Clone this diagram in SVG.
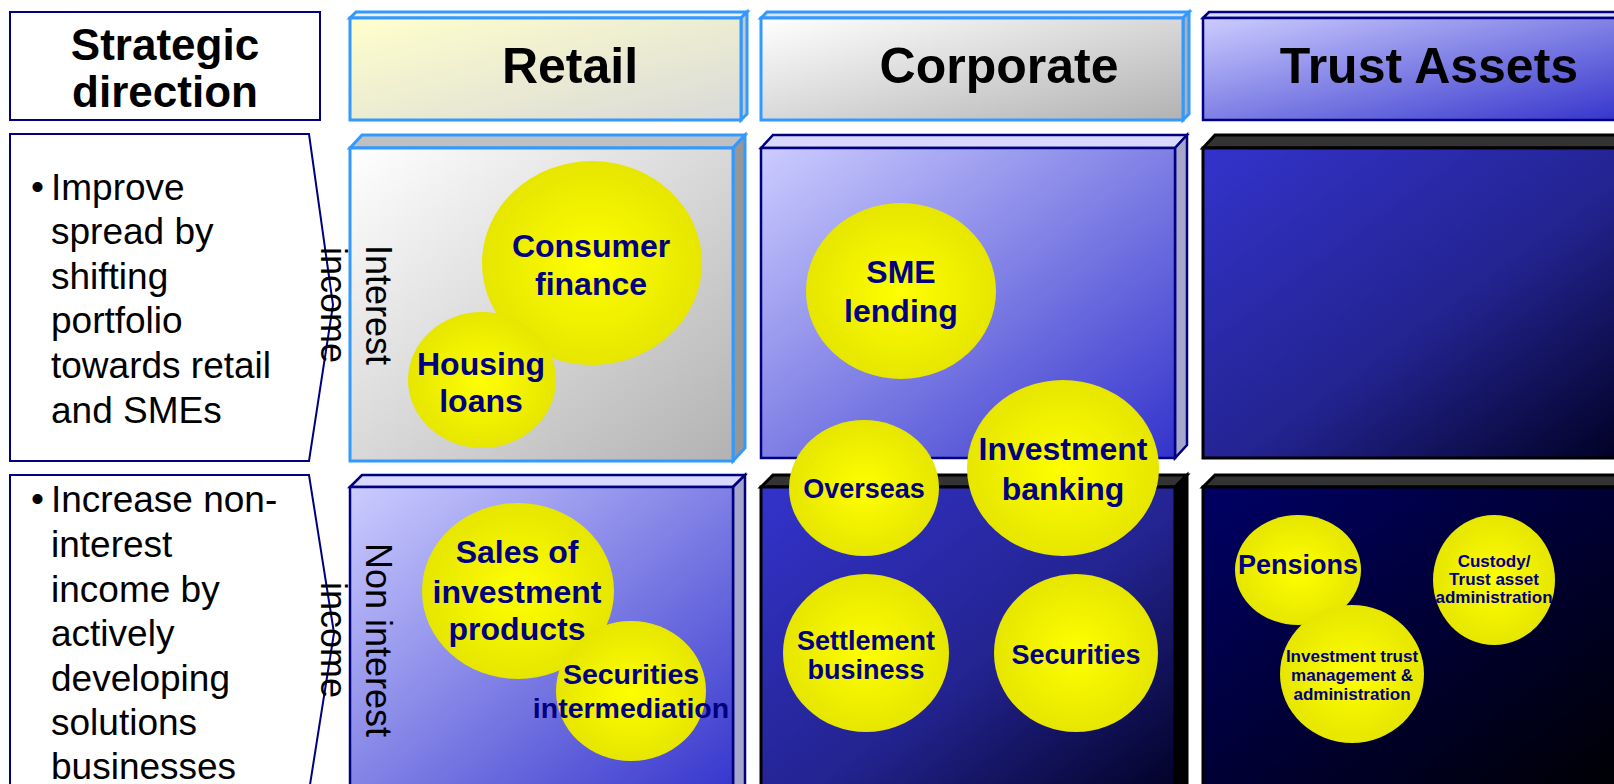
<svg xmlns="http://www.w3.org/2000/svg" width="1614" height="784" viewBox="0 0 1614 784">
  <defs>
    <linearGradient id="gYellowGray" x1="0" y1="0" x2="1" y2="1">
      <stop offset="0" stop-color="#FFFFCC"/>
      <stop offset="1" stop-color="#D9D9D9"/>
    </linearGradient>
    <linearGradient id="gWhiteGray" x1="0" y1="0" x2="1" y2="1">
      <stop offset="0" stop-color="#FFFFFF"/>
      <stop offset="1" stop-color="#B2B2B2"/>
    </linearGradient>
    <linearGradient id="gLilac" x1="0" y1="0" x2="1" y2="1">
      <stop offset="0" stop-color="#CCCCFF"/>
      <stop offset="1" stop-color="#3333CC"/>
    </linearGradient>
    <linearGradient id="gBlueDark" x1="0" y1="0" x2="1" y2="1">
      <stop offset="0" stop-color="#3333CC"/>
      <stop offset="0.55" stop-color="#232390"/>
      <stop offset="1" stop-color="#000022"/>
    </linearGradient>
    <linearGradient id="gNavyBlack" x1="0" y1="0" x2="1" y2="1">
      <stop offset="0" stop-color="#000066"/>
      <stop offset="1" stop-color="#000000"/>
    </linearGradient>
    <radialGradient id="gBubble" cx="0.5" cy="0.5" r="0.5">
      <stop offset="0" stop-color="#FFFF00"/>
      <stop offset="1" stop-color="#E6E600"/>
    </radialGradient>
    <style>
      .hdr { font-family: "Liberation Sans", Arial, sans-serif; font-weight: bold; font-size: 50px; fill: #000; text-anchor: middle; }
      .sd { font-family: "Liberation Sans", Arial, sans-serif; font-weight: bold; font-size: 44px; fill: #000; text-anchor: middle; }
      .body { font-family: "Liberation Sans", Arial, sans-serif; font-size: 37px; fill: #000; }
      .vert { font-family: "Liberation Sans", Arial, sans-serif; font-size: 36px; fill: #000; text-anchor: middle; }
      .bl { font-family: "Liberation Sans", Arial, sans-serif; font-weight: bold; fill: #000080; text-anchor: middle; }
      .b32 { font-size: 32px; }
      .b28 { font-size: 28.5px; }
      .b27 { font-size: 27px; }
      .b17 { font-size: 17px; }
      .bubble { fill: url(#gBubble); }
      .navy { stroke: #000080; stroke-width: 2.5; stroke-linejoin: miter; }
      .sky { stroke: #3399FF; stroke-width: 3; stroke-linejoin: miter; }
      .blk { stroke: #000000; stroke-width: 3; stroke-linejoin: miter; }
      .textbox { fill: #FFFFFF; stroke: #000080; stroke-width: 2; }
    </style>
  </defs>

  <rect width="1614" height="784" fill="#FFFFFF"/>

  <!-- left column: strategy statements -->
  <g id="strategic-direction">
    <rect class="textbox" x="10" y="12" width="310" height="108"/>
    <text class="sd" x="165" y="60">Strategic</text>
    <text class="sd" x="165" y="107">direction</text>
  </g>

  <g id="strategy-spread">
    <polygon class="textbox" points="10,134 309,134 333,305 309,461 10,461"/>
    <text class="body" x="31" y="199" font-size="26">•</text>
    <text class="body" x="51" y="200">Improve</text>
    <text class="body" x="51" y="244">spread by</text>
    <text class="body" x="51" y="289">shifting</text>
    <text class="body" x="51" y="333">portfolio</text>
    <text class="body" x="51" y="378">towards retail</text>
    <text class="body" x="51" y="423">and SMEs</text>
  </g>

  <g id="strategy-noninterest">
    <polygon class="textbox" points="10,475 309,475 334,633 309,791 10,791"/>
    <text class="body" x="31" y="511" font-size="26">•</text>
    <text class="body" x="51" y="512">Increase non-</text>
    <text class="body" x="51" y="557">interest</text>
    <text class="body" x="51" y="602">income by</text>
    <text class="body" x="51" y="646">actively</text>
    <text class="body" x="51" y="691">developing</text>
    <text class="body" x="51" y="735">solutions</text>
    <text class="body" x="51" y="779">businesses</text>
  </g>

  <!-- column headers (shallow 3D blocks) -->
  <g id="header-retail">
    <polygon class="sky" fill="#F0F0DC" points="350,18 356,12 747,12 741,18"/>
    <polygon class="sky" fill="#C8C8C8" points="741,18 747,12 747,114 741,120"/>
    <rect class="sky" fill="url(#gYellowGray)" x="350" y="18" width="391" height="102"/>
    <text class="hdr" x="570" y="83">Retail</text>
  </g>
  <g id="header-corporate">
    <polygon class="sky" fill="#E0E0E0" points="761,18 767,12 1189,12 1183,18"/>
    <polygon class="sky" fill="#B0B0B0" points="1183,18 1189,12 1189,114 1183,120"/>
    <rect class="sky" fill="url(#gWhiteGray)" x="761" y="18" width="422" height="102"/>
    <text class="hdr" x="999" y="83">Corporate</text>
  </g>
  <g id="header-trust">
    <polygon class="navy" fill="#D9D9FF" points="1203,18 1209,12 1640,12 1634,18"/>
    <rect class="navy" fill="url(#gLilac)" x="1203" y="18" width="431" height="102"/>
    <text class="hdr" x="1429" y="83">Trust Assets</text>
  </g>

  <!-- row 1: interest income blocks -->
  <g id="retail-interest">
    <polygon class="sky" fill="#C0C0C0" points="350,148 362,135 745,135 733,148"/>
    <polygon class="sky" fill="#969696" points="733,148 745,135 745,448 733,461"/>
    <rect class="sky" fill="url(#gWhiteGray)" x="350" y="148" width="383" height="313"/>
  </g>
  <g id="corporate-interest">
    <polygon class="navy" fill="#D9D9FF" points="761,148 773,135 1187,135 1175,148"/>
    <polygon class="navy" fill="#A6A6CC" points="1175,148 1187,135 1187,445 1175,458"/>
    <rect class="navy" fill="url(#gLilac)" x="761" y="148" width="414" height="310"/>
  </g>
  <g id="trust-interest">
    <polygon class="blk" fill="#333333" points="1203,148 1215,135 1640,135 1628,148"/>
    <rect class="blk" fill="url(#gBlueDark)" x="1203" y="148" width="425" height="310"/>
  </g>

  <!-- row 2: non-interest income blocks -->
  <g id="retail-noninterest">
    <polygon class="navy" fill="#D9D9FF" points="350,487 362,475 745,475 733,487"/>
    <polygon class="navy" fill="#A6A6CC" points="733,487 745,475 745,790 733,802"/>
    <rect class="navy" fill="url(#gLilac)" x="350" y="487" width="383" height="315"/>
  </g>
  <g id="corporate-noninterest">
    <polygon class="blk" fill="#333333" points="761,487 773,475 1187,475 1175,487"/>
    <polygon class="blk" fill="#000000" points="1175,487 1187,475 1187,790 1175,802"/>
    <rect class="blk" fill="url(#gBlueDark)" x="761" y="487" width="414" height="315"/>
  </g>
  <g id="trust-noninterest">
    <polygon class="blk" fill="#333333" points="1203,487 1215,475 1640,475 1628,487"/>
    <rect class="blk" fill="url(#gNavyBlack)" x="1203" y="487" width="425" height="315"/>
  </g>

  <!-- row labels, rotated -->
  <g id="label-interest">
    <g transform="translate(366,305) rotate(90)">
      <text class="vert" x="0" y="0">Interest</text>
      <text class="vert" x="0" y="45">income</text>
    </g>
  </g>
  <g id="label-noninterest">
    <g transform="translate(366,640) rotate(90)">
      <text class="vert" x="0" y="0">Non interest</text>
      <text class="vert" x="0" y="45">income</text>
    </g>
  </g>

  <!-- business lines -->
  <g id="consumer-finance">
    <ellipse class="bubble" cx="592" cy="263" rx="110" ry="102"/>
    <text class="bl b32" x="591" y="257">Consumer</text>
    <text class="bl b32" x="591" y="295">finance</text>
  </g>
  <g id="housing-loans">
    <ellipse class="bubble" cx="482" cy="380" rx="74" ry="68"/>
    <text class="bl b32" x="481" y="375">Housing</text>
    <text class="bl b32" x="481" y="412">loans</text>
  </g>
  <g id="sme-lending">
    <ellipse class="bubble" cx="901" cy="291" rx="95" ry="88"/>
    <text class="bl b32" x="901" y="283">SME</text>
    <text class="bl b32" x="901" y="322">lending</text>
  </g>
  <g id="sales-investment">
    <ellipse class="bubble" cx="518" cy="591" rx="96" ry="88"/>
    <text class="bl b32" x="517" y="563">Sales of</text>
    <text class="bl b32" x="517" y="603">investment</text>
    <text class="bl b32" x="517" y="640">products</text>
  </g>
  <g id="securities-intermediation">
    <ellipse class="bubble" cx="631" cy="691" rx="75" ry="70"/>
    <text class="bl b28" x="631" y="684">Securities</text>
    <text class="bl b28" x="631" y="718">intermediation</text>
  </g>
  <g id="overseas">
    <ellipse class="bubble" cx="864" cy="488" rx="75" ry="68"/>
    <text class="bl b27" x="864" y="498">Overseas</text>
  </g>
  <g id="investment-banking">
    <ellipse class="bubble" cx="1063" cy="468" rx="96" ry="88"/>
    <text class="bl b32" x="1063" y="460">Investment</text>
    <text class="bl b32" x="1063" y="500">banking</text>
  </g>
  <g id="settlement-business">
    <ellipse class="bubble" cx="866" cy="653" rx="83" ry="79"/>
    <text class="bl b27" x="866" y="650">Settlement</text>
    <text class="bl b27" x="866" y="679">business</text>
  </g>
  <g id="securities">
    <ellipse class="bubble" cx="1076" cy="653" rx="82" ry="79"/>
    <text class="bl b27" x="1076" y="664">Securities</text>
  </g>
  <g id="pensions">
    <ellipse class="bubble" cx="1298" cy="570" rx="63" ry="55"/>
    <text class="bl b27" x="1298" y="574">Pensions</text>
  </g>
  <g id="investment-trust">
    <ellipse class="bubble" cx="1352" cy="674" rx="72" ry="69"/>
    <text class="bl b17" x="1352" y="662">Investment trust</text>
    <text class="bl b17" x="1352" y="681">management &amp;</text>
    <text class="bl b17" x="1352" y="700">administration</text>
  </g>
  <g id="custody">
    <ellipse class="bubble" cx="1494" cy="580" rx="61" ry="65"/>
    <text class="bl b17" x="1494" y="567">Custody/</text>
    <text class="bl b17" x="1494" y="585">Trust asset</text>
    <text class="bl b17" x="1494" y="603">administration</text>
  </g>

  <!-- no connectors in this chart -->
  <g id="connectors"/>
</svg>
